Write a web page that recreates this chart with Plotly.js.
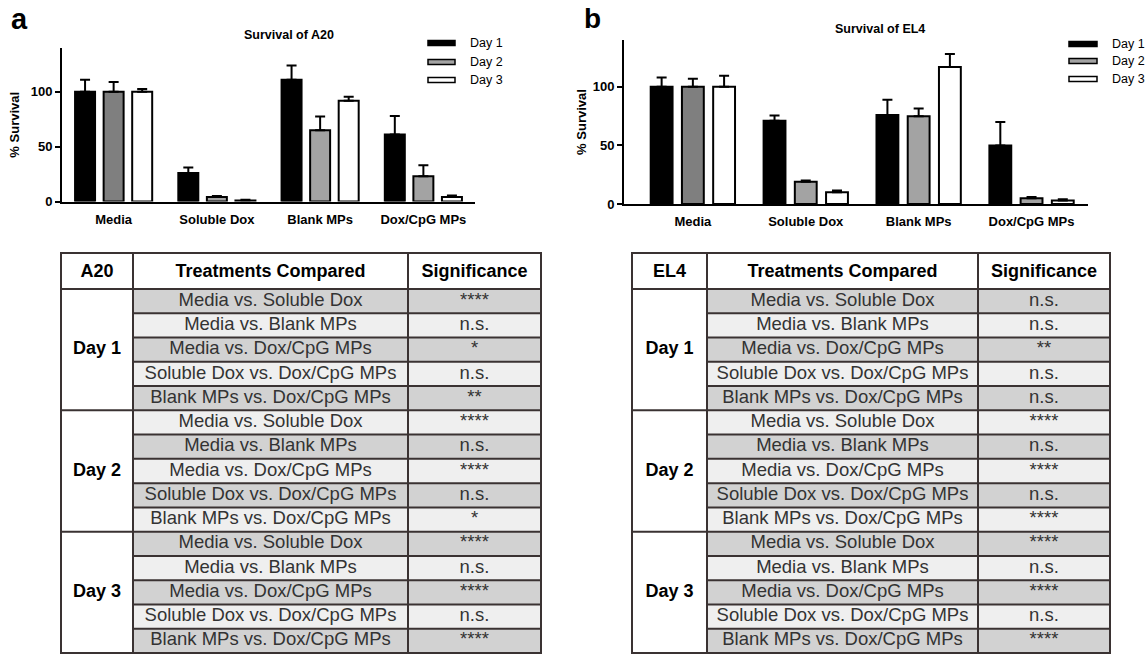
<!DOCTYPE html>
<html><head><meta charset="utf-8">
<script src="https://cdn.plot.ly/plotly-3.0.1.min.js"></script>
<style>html,body{margin:0;padding:0;background:#fff}#chart{width:1147px;height:655px}</style>
</head><body><div id="chart"></div>
<script>
// ---------------- data ----------------
const categories = ['Media', 'Soluble Dox', 'Blank MPs', 'Dox/CpG MPs'];
const dayNames = ['Day 1', 'Day 2', 'Day 3'];

const a20Day1 = [100, 26, 111, 61];
const a20Day1Err = [11, 5, 13, 17];
const a20Day2 = [100, 4, 65, 23];
const a20Day2Err = [9, 1, 12.5, 10];
const a20Day3 = [100, 1, 92, 4];
const a20Day3Err = [2.5, 0.5, 3.5, 1.5];

const el4Day1 = [100, 71, 76, 50];
const el4Day1Err = [8, 4.5, 13, 20];
const el4Day2 = [100, 19, 75, 5];
const el4Day2Err = [7, 1, 6.5, 1];
const el4Day3 = [100, 10, 117, 3];
const el4Day3Err = [9.5, 1.5, 11, 1];

const comparisons = ['Media vs. Soluble Dox', 'Media vs. Blank MPs', 'Media vs. Dox/CpG MPs',
  'Soluble Dox vs. Dox/CpG MPs', 'Blank MPs vs. Dox/CpG MPs'];
const tableHeaders = ['Treatments Compared', 'Significance'];
const a20SigDay1 = ['****', 'n.s.', '*', 'n.s.', '**'];
const a20SigDay2 = ['****', 'n.s.', '****', 'n.s.', '*'];
const a20SigDay3 = ['****', 'n.s.', '****', 'n.s.', '****'];
const el4SigDay1 = ['n.s.', 'n.s.', '**', 'n.s.', 'n.s.'];
const el4SigDay2 = ['****', 'n.s.', '****', 'n.s.', '****'];
const el4SigDay3 = ['****', 'n.s.', '****', 'n.s.', '****'];

// ---------------- layout helpers ----------------
const W = 1147, H = 655;
const px = x => x / W;
const py = y => 1 - y / H;
const FONT = 'Liberation Sans, Arial, Helvetica, sans-serif';
const day2Colors = ['#7f7f7f', '#a3a3a3', '#a3a3a3', '#a3a3a3'];
const dayFill = ['#000000', day2Colors, '#ffffff'];

function barTrace(vals, errs, day, xa, ya) {
  return {
    type: 'bar', x: categories, y: vals, xaxis: xa, yaxis: ya, name: dayNames[day],
    marker: {color: dayFill[day], line: {color: '#000', width: 2}},
    error_y: {type: 'data', symmetric: false, array: errs, arrayminus: errs.map(() => 0),
      color: '#000', thickness: 2, width: 5},
    hoverinfo: 'skip', showlegend: false
  };
}

const traces = [
  barTrace(a20Day1, a20Day1Err, 0, 'x', 'y'),
  barTrace(a20Day2, a20Day2Err, 1, 'x', 'y'),
  barTrace(a20Day3, a20Day3Err, 2, 'x', 'y'),
  barTrace(el4Day1, el4Day1Err, 0, 'x2', 'y2'),
  barTrace(el4Day2, el4Day2Err, 1, 'x2', 'y2'),
  barTrace(el4Day3, el4Day3Err, 2, 'x2', 'y2')
];

const shapes = [];
const annotations = [];

// ---------------- tables ----------------
const LINE = '#3a3232';
function buildTable(xa, ya, cellLine, sigs, colEdges) {
  const total = colEdges[3];
  const headH = 36, rowH = (400 - headH) / 15;
  const rows = [];
  sigs.forEach((arr, g) => arr.forEach((s, k) => rows.push({cmp: comparisons[k], sig: s})));
  rows.forEach((r, i) => {
    shapes.push({type: 'rect', xref: xa, yref: ya, x0: colEdges[1], x1: total,
      y0: headH + i * rowH, y1: headH + (i + 1) * rowH,
      fillcolor: i % 2 === 0 ? '#d2d2d2' : '#efefef', line: {width: 0}, layer: 'below'});
  });
  const ln = (x0, y0, x1, y1) => shapes.push({type: 'line', xref: xa, yref: ya, x0, y0, x1, y1,
    line: {color: LINE, width: 2}});
  for (let i = 1; i < 15; i++) {
    const y = headH + i * rowH;
    if (i % 5 === 0) ln(0, y, total, y); else ln(colEdges[1], y, total, y);
  }
  ln(0, headH, total, headH);
  ln(colEdges[1], 0, colEdges[1], 400);
  ln(colEdges[2], 0, colEdges[2], 400);
  shapes.push({type: 'rect', xref: xa, yref: ya, x0: 0, x1: total, y0: 0, y1: 400,
    line: {color: LINE, width: 2}, fillcolor: 'rgba(0,0,0,0)'});

  const c = k => (colEdges[k] + colEdges[k + 1]) / 2;
  const common = {type: 'scatter', mode: 'text', xaxis: xa, yaxis: ya, hoverinfo: 'skip',
    showlegend: false, cliponaxis: false, textposition: 'middle center'};
  traces.push(Object.assign({}, common, {
    x: [c(0), c(1), c(2)], y: [headH / 2 + 1, headH / 2 + 1, headH / 2 + 1],
    text: [cellLine].concat(tableHeaders),
    textfont: {family: FONT, size: 18, color: '#000', weight: 'bold'}}));
  traces.push(Object.assign({}, common, {
    x: dayNames.map(() => c(0)), y: dayNames.map((d, g) => headH + (g * 5 + 2.5) * rowH),
    text: dayNames, textfont: {family: FONT, size: 18, color: '#000', weight: 'bold'}}));
  traces.push(Object.assign({}, common, {
    x: rows.map(() => c(1)), y: rows.map((r, i) => headH + (i + 0.5) * rowH),
    text: rows.map(r => r.cmp), textfont: {family: FONT, size: 18.5, color: '#333'}}));
  traces.push(Object.assign({}, common, {
    x: rows.map(() => c(2)), y: rows.map((r, i) => headH + (i + 0.5) * rowH),
    text: rows.map(r => r.sig), textfont: {family: FONT, size: 18.5, color: '#333'}}));
}
buildTable('x3', 'y3', 'A20', [a20SigDay1, a20SigDay2, a20SigDay3], [0, 72, 347, 480]);
buildTable('x4', 'y4', 'EL4', [el4SigDay1, el4SigDay2, el4SigDay3], [0, 75, 346, 478]);

// ---------------- custom legends ----------------
function legend(x0, x1, ys, tx) {
  dayNames.forEach((d, i) => {
    shapes.push({type: 'rect', xref: 'paper', yref: 'paper', x0: px(x0), x1: px(x1),
      y0: py(ys[i] + 2.5), y1: py(ys[i] - 2.5),
      fillcolor: i === 0 ? '#000' : (i === 1 ? '#a3a3a3' : '#fff'), line: {color: '#000', width: 1.5}});
    annotations.push({xref: 'paper', yref: 'paper', x: px(tx), y: py(ys[i]), xanchor: 'left',
      yanchor: 'middle', text: d, showarrow: false, font: {family: FONT, size: 12.5, color: '#000'}});
  });
}
legend(428, 455, [43, 62, 80], 468);
legend(1069, 1097, [44, 61, 79], 1110);

// ---------------- titles ----------------
const boldF = (s) => ({family: FONT, size: s, color: '#000', weight: 'bold'});
annotations.push({xref: 'paper', yref: 'paper', x: px(289), y: py(35), text: 'Survival of A20',
  showarrow: false, xanchor: 'center', yanchor: 'middle', font: boldF(12.5)});
annotations.push({xref: 'paper', yref: 'paper', x: px(880), y: py(29), text: 'Survival of EL4',
  showarrow: false, xanchor: 'center', yanchor: 'middle', font: boldF(12.5)});
annotations.push({xref: 'paper', yref: 'paper', x: px(9), y: py(19), text: 'a',
  showarrow: false, xanchor: 'left', yanchor: 'middle', font: boldF(29)});
annotations.push({xref: 'paper', yref: 'paper', x: px(582), y: py(18), text: 'b',
  showarrow: false, xanchor: 'left', yanchor: 'middle', font: boldF(28)});

// ---------------- axes ----------------
const xCat = (domain, range, standoff) => ({
  domain, range, type: 'category', showline: true, linewidth: 2, linecolor: '#000',
  ticks: '', showgrid: false, zeroline: false, fixedrange: true, ticklabelstandoff: standoff,
  tickfont: boldF(13)});
const yVal = (domain, anchor, standoff) => ({
  domain, anchor, range: [0, 140], tickvals: [0, 50, 100], showline: true, linewidth: 2,
  linecolor: '#000', ticks: 'outside', ticklen: 5, tickwidth: 2, tickcolor: '#000',
  showgrid: false, zeroline: false, fixedrange: true, tickfont: boldF(13),
  title: {text: '% Survival', font: boldF(13), standoff}});
const hidden = (domain, range, anchor) => ({domain, range, anchor, visible: false,
  showgrid: false, zeroline: false, fixedrange: true});

const layout = {
  width: W, height: H, margin: {l: 0, r: 0, t: 0, b: 0},
  paper_bgcolor: '#fff', plot_bgcolor: 'rgba(0,0,0,0)',
  font: {family: FONT, color: '#000'},
  barmode: 'group', bargap: 0.17, bargroupgap: 0.3, showlegend: false,
  xaxis: Object.assign(xCat([px(62), px(475)], [-0.5, 3.5], 5), {anchor: 'y'}),
  yaxis: yVal([py(201.5), py(48)], 'x', 8),
  xaxis2: Object.assign(xCat([px(624), px(1088)], [-0.61, 3.5], 4), {anchor: 'y2'}),
  yaxis2: yVal([py(204), py(40)], 'x2', 3),
  xaxis3: hidden([px(59), px(543)], [-2, 482], 'y3'),
  yaxis3: hidden([py(655), py(251)], [402, -2], 'x3'),
  xaxis4: hidden([px(630), px(1112)], [-2, 480], 'y4'),
  yaxis4: hidden([py(655), py(251)], [402, -2], 'x4'),
  shapes, annotations
};

Plotly.newPlot('chart', traces, layout, {staticPlot: true, displayModeBar: false});
</script></body></html>
